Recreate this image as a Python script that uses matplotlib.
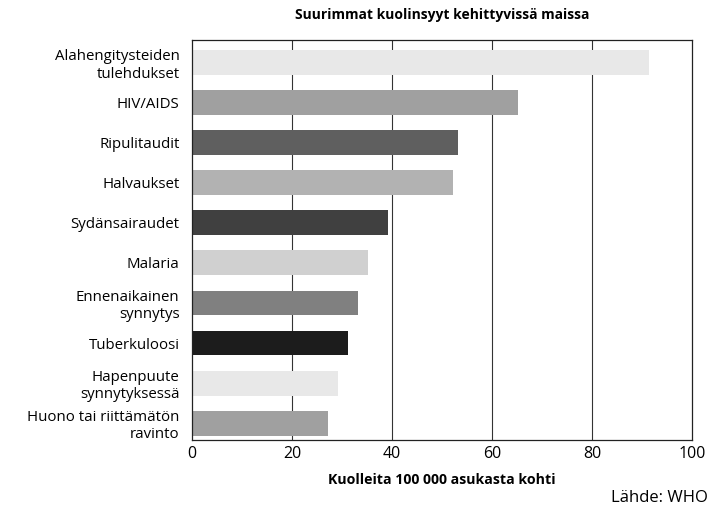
import matplotlib
matplotlib.use("Agg")
import matplotlib.pyplot as plt

categories = ["Alahengitysteiden\ntulehdukset", "HIV/AIDS", "Ripulitaudit", "Halvaukset",
              "Sydänsairaudet", "Malaria", "Ennenaikainen\nsynnytys", "Tuberkuloosi",
              "Hapenpuute\nsynnytyksessä", "Huono tai riittämätön\nravinto"]
values = [91.4, 65.2, 53.2, 52.2, 39.2, 35.2, 33.2, 31.2, 29.2, 27.2]
colors = ["#e8e8e8", "#a0a0a0", "#5f5f5f", "#b2b2b2", "#404040", "#d0d0d0",
          "#808080", "#1c1c1c", "#e8e8e8", "#a0a0a0"]
xticks = [0, 20, 40, 60, 80, 100]

plt.rcParams['font.family'] = ['Open Sans', 'DejaVu Sans']
fig = plt.figure(figsize=(7.11, 5.12), dpi=100)
ax = fig.add_axes([192/711, 1-440/512, 500/711, 400/512])
pos = list(range(len(categories)))
ax.barh(pos, values, height=0.62, color=colors, zorder=2)
ax.set_ylim(len(categories)-1+0.42, -0.56)
ax.set_xlim(0, 100)
ax.set_xticks(xticks)
ax.set_xticklabels([str(t) for t in xticks], fontsize=11.5)
ax.set_yticks(pos)
ax.set_yticklabels(categories, fontsize=10.8, linespacing=1.2)
ax.tick_params(axis='y', length=0, pad=9)
ax.tick_params(axis='x', length=0, pad=4)
for x in xticks[1:-1]:
    ax.axvline(x, color='#333333', lw=0.8, zorder=1)
for s in ax.spines.values():
    s.set_color('#222222')
    s.set_linewidth(0.9)
ax.set_xlabel("Kuolleita 100 000 asukasta kohti", fontsize=10.2, fontweight='bold', labelpad=8)
fig.text(442/711, 1-15/512, "Suurimmat kuolinsyyt kehittyvissä maissa", ha='center', va='center',
         fontsize=10, fontweight='bold')
fig.text(708/711, 1-498/512, "Lähde: WHO", ha='right', va='center', fontsize=12)
fig.savefig("out.png", dpi=100)
